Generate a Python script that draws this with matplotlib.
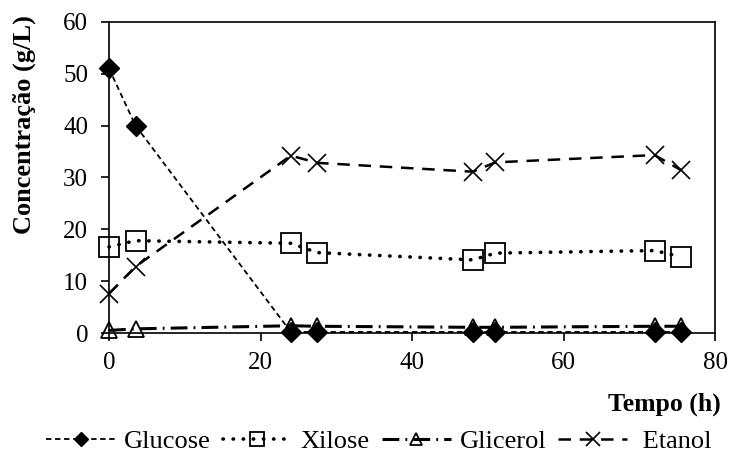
import numpy as np
import matplotlib.pyplot as plt

plt.rcParams['font.family'] = ['Liberation Serif', 'DejaVu Serif']

# data
tempo = [0, 3.5, 24, 27.5, 48, 51, 72, 75.5]
glucose = [51.0, 40.0, 0.2, 0.2, 0.2, 0.2, 0.2, 0.2]
xilose = [16.6, 17.8, 17.3, 15.5, 14.1, 15.4, 15.9, 14.7]
glicerol = [0.5, 0.8, 1.4, 1.3, 1.1, 1.1, 1.3, 1.3]
etanol = [7.6, 12.8, 34.2, 32.8, 31.1, 32.9, 34.3, 31.4]

fig = plt.figure(figsize=(7.29, 4.54), dpi=100)
ax = fig.add_axes([0.1495, 0.2665, 0.8315, 0.6855])

ax.plot(tempo, glucose, color='black', lw=1.3, linestyle=(0, (3, 2)),
        marker='D', markersize=10, markerfacecolor='black', label='Glucose',
        zorder=5, clip_on=False)
ax.plot(tempo, xilose, color='black', lw=2.6, linestyle=(0, (0.1, 2.7)),
        dash_capstyle='round', marker='s', markersize=14,
        markerfacecolor='none', markeredgewidth=1.3, label='Xilose', clip_on=False)
ax.plot(tempo, glicerol, color='black', lw=2.2, linestyle=(0, (5.5, 2, 0.6, 2)),
        marker='^', markersize=12, markerfacecolor='none',
        markeredgewidth=1.3, label='Glicerol', clip_on=False)
ax.plot(tempo, etanol, color='black', lw=1.8, linestyle=(0, (5, 3.5)),
        marker='x', markersize=13, markeredgewidth=1.2, label=' Etanol', clip_on=False)

ax.set_xlim(0, 80)
ax.set_ylim(0, 60)
ax.set_xticks(np.arange(0, 81, 20))
ax.set_yticks(np.arange(0, 61, 10))
ax.tick_params(labelsize=18, direction='out', length=6, width=1.2)
ax.tick_params(axis='x', pad=8)
ax.tick_params(axis='y', pad=9)
for s in ax.spines.values():
    s.set_linewidth(1.2)

ax.set_ylabel('Concentração (g/L)', fontsize=19, fontweight='bold', va='center')
ax.yaxis.set_label_coords(-0.139, 0.671)
fig.text(0.988, 0.11, 'Tempo (h)', fontsize=18.5, fontweight='bold', ha='right', va='center')

fig.legend(loc='center', bbox_to_anchor=(0.52, 0.028), ncol=4, frameon=False,
           fontsize=19, handlelength=2.6, columnspacing=0.45, handletextpad=0.35,
           markerscale=0.75, borderpad=0, borderaxespad=0)

fig.savefig('out.png', dpi=100)
